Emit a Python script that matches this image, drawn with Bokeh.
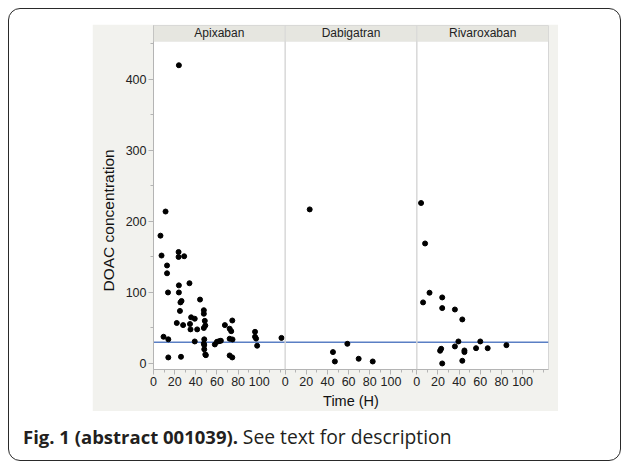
from bokeh.plotting import figure
from bokeh.models import (Range1d, FixedTicker, BoxAnnotation, Span, Label,
                          ColumnDataSource, Spacer, Div, Title)
from bokeh.layouts import column, row
from bokeh.embed import file_html
from bokeh.resources import INLINE

# ---------------- data ----------------
panels = ["Apixaban", "Dabigatran", "Rivaroxaban"]

apix_time = [24, 11.4, 6.6, 7.6, 23.7, 23.7, 29, 12.8, 12.8, 13.7, 24, 24, 34,
             26.5, 25.5, 25, 44, 47.6, 47.6, 48.5, 22, 28, 34.5, 35.6, 39, 49,
             47.6, 35, 41.3, 67.5, 72, 73.5, 74.5, 9.5, 14, 39, 48, 47.6, 48,
             48, 49, 49.5, 58, 60, 62, 63.7, 72, 74.7, 72, 74.5, 96, 96, 97,
             98, 121, 14, 26]
apix_conc = [420, 214, 180, 152, 157, 150, 151, 138, 127, 100, 110, 100, 113,
             88, 86, 74, 90, 75, 70, 60, 57, 54, 55.6, 65, 63, 53.5,
             50, 48, 48, 54, 49, 45.5, 60.5, 37.6, 34, 31, 34, 28, 26,
             20, 12.7, 11.7, 26.8, 30.5, 31.4, 32, 34.8, 33.8, 11.3, 8.5, 44.6, 37.6, 35,
             25, 36, 8.5, 9.4]

dabi_time = [23.2, 45.2, 47, 58.8, 69.5, 82.8]
dabi_conc = [217, 16, 2.8, 27.7, 6.6, 2.8]

riva_time = [4, 7.8, 12, 5.9, 24, 24, 36, 43, 39.3, 36, 60, 67, 56, 84.7,
             23, 22, 24, 45, 45, 43]
riva_conc = [226, 169, 99.6, 86, 93, 78, 76, 62, 31, 24, 31, 21.5, 21.5, 25.8,
             20.7, 17.9, 0, 18.3, 16, 3.8]

threshold = 30
x_tick_values = [0, 20, 40, 60, 80, 100]
x_minor_values = [0, 10, 20, 30, 40, 50, 60, 70, 80, 90, 100, 110, 120]
y_tick_values = [0, 100, 200, 300, 400]
y_minor_values = [50, 150, 250, 350, 450]

# ---------------- layout constants ----------------
PANEL_W = 124.5          # hours spanned by each facet
Y_MIN, Y_MAX, STRIP_TOP = -8.5, 453.5, 476.0

GRAY_BG = "#f2f2ee"
STRIP_BG = "#e6e6e0"
SEP = "#d6d6d6"
AXIS = "#b4b4b4"
FONT = "Arial"

times = [apix_time, dabi_time, riva_time]
concs = [apix_conc, dabi_conc, riva_conc]

xs, ys = [], []
for k, (t, c) in enumerate(zip(times, concs)):
    xs += [v + k * PANEL_W for v in t]
    ys += list(c)
src = ColumnDataSource(dict(x=xs, y=ys))

p = figure(frame_width=395, frame_height=344,
           x_range=Range1d(0, 3 * PANEL_W), y_range=Range1d(Y_MIN, STRIP_TOP),
           output_backend="svg", toolbar_location=None,
           min_border_left=60, min_border_right=10,
           min_border_top=1, min_border_bottom=40)
p.border_fill_color = GRAY_BG
p.background_fill_color = "white"
p.outline_line_color = SEP
p.xgrid.visible = False
p.ygrid.visible = False

# reference line (under the dots)
p.add_layout(Span(location=threshold, dimension="width", line_color="#5a7fc4",
                  line_width=1.5, level="underlay"))
# facet separators
for k in (1, 2):
    p.add_layout(Span(location=k * PANEL_W, dimension="height",
                      line_color=SEP, line_width=1, level="underlay"))

p.scatter("x", "y", source=src, size=5, color="black")

# facet header strip
p.add_layout(BoxAnnotation(bottom=Y_MAX, fill_color=STRIP_BG, fill_alpha=1,
                           line_color=SEP, line_width=1))
for k in (1, 2):
    p.add_layout(Span(location=k * PANEL_W, dimension="height",
                      line_color=SEP, line_width=1))
for k, name in enumerate(panels):
    p.add_layout(Label(x=PANEL_W / 2 + k * PANEL_W, y=(Y_MAX + STRIP_TOP) / 2,
                       text=name, text_align="center", text_baseline="middle",
                       text_font=FONT, text_font_size="12px",
                       text_color="#222222"))

# x axis
major = [t + k * PANEL_W for k in range(3) for t in x_tick_values]
minor = [t + k * PANEL_W for k in range(3) for t in x_minor_values]
p.xaxis.ticker = FixedTicker(ticks=major, minor_ticks=minor)
p.xaxis.major_label_overrides = {t + k * PANEL_W: str(t)
                                 for k in range(3) for t in x_tick_values}
p.xaxis.axis_label = "Time (H)"

# y axis
p.yaxis.ticker = FixedTicker(ticks=y_tick_values, minor_ticks=y_minor_values)

for ax in (p.xaxis[0], p.yaxis[0]):
    ax.axis_line_color = AXIS
    ax.major_tick_line_color = AXIS
    ax.minor_tick_line_color = AXIS
    ax.major_tick_in = 0
    ax.major_tick_out = 5
    ax.minor_tick_in = 0
    ax.minor_tick_out = 3
    ax.major_label_text_font = FONT
    ax.major_label_text_font_size = "12.5px"
    ax.major_label_text_color = "#222222"
    ax.major_label_standoff = 2
    ax.axis_label_text_font = FONT
    ax.axis_label_text_font_size = "14.5px"
    ax.axis_label_text_font_style = "normal"
    ax.axis_label_text_color = "#111111"
    ax.axis_label_standoff = 4

# y-axis title, placed a little below the frame centre as in the original
p.add_layout(Title(text="DOAC concentration", align="left", offset=78,
                   text_font=FONT, text_font_size="15.5px",
                   text_font_style="normal", text_color="#111111",
                   standoff=11), "left")

caption = Div(
    text='<span style="font-weight:700">Fig. 1 (abstract 001039).</span> '
         '<span style="font-size:19.3px">See text for description</span>',
    width=600, height=50,
    styles={"font-family": "Open Sans", "font-size": "18.5px",
            "color": "#231f20", "padding-left": "9px", "padding-top": "7px"})

card = column(
    Spacer(height=15, width=10),
    row(Spacer(width=83, height=10), p),
    caption,
    width=613, height=453,
    styles={"border": "1.5px solid #2a2a2a", "border-radius": "12px",
            "box-sizing": "border-box", "background": "white"})

page = column(Spacer(height=8, width=10), row(Spacer(width=8, height=10), card))

open("out.html", "w").write(file_html(page, INLINE))
